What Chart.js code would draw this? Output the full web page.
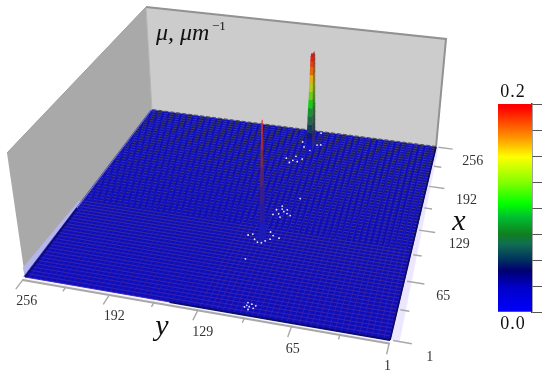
<!DOCTYPE html>
<html>
<head>
<meta charset="utf-8">
<script src="https://cdn.jsdelivr.net/npm/chart.js@4"></script>
<style>
  body { margin: 0; background: #fff; }
  #wrap { position: relative; width: 550px; height: 380px; overflow: hidden; }
  #plot { position: absolute; left: 0; top: 0; }
  #bar { position: absolute; left: 498px; top: 100px; }
</style>
</head>
<body>
<div id="wrap">
  <canvas id="plot" width="550" height="380"></canvas>
  <canvas id="bar" width="44" height="216"></canvas>
</div>
<script>
// axis ticks (x and y both run 1..256)
const majorTicks = [1, 65, 129, 192, 256];
const minorTicks = [33, 97, 160, 224];
const muTop = 0.2;

// colour scale
const scaleValues = [0, 0.024, 0.04, 0.05, 0.066, 0.075, 0.0915, 0.104, 0.124, 0.149, 0.1685, 0.197, 0.2];
const scaleColors = [[0,0,255],[0,0,200],[0,0,112],[0,48,96],[16,112,80],[16,128,32],[0,192,48],[0,255,0],[128,255,0],[255,255,0],[255,144,0],[255,0,0],[255,0,0]];
const scaleTicks = [0, 0.025, 0.05, 0.075, 0.1, 0.125, 0.15, 0.175, 0.2];

// the two peaks: position, then mu and half width going up the column
const peakAx = 89, peakAy = 109;
const peakAmu = [0, 0.03, 0.06, 0.09, 0.12, 0.15, 0.175, 0.197];
const peakAwidth = [1.8, 1.2, 0.95, 0.85, 0.7, 0.5, 0.35, 0.3];
const peakAtone = ['#1c1cb8', '#2a1ca0', '#3c1e88', '#5a2468', '#7c2c44', '#a82c2c', '#e83030'];
const peakBx = 230, peakBy = 104;
const peakBmu = [0, 0.01, 0.02, 0.03, 0.045, 0.06, 0.075, 0.09, 0.105, 0.12, 0.135, 0.15, 0.16, 0.168, 0.173];
const peakBwidth = [2.6, 2.4, 2.3, 2.2, 2.1, 2, 1.9, 1.7, 1.6, 1.5, 1.4, 1.3, 1.2, 1.1, 0.8];

// small isolated values around the peaks
const speckX = [90,92,86,83,83,86,89,94,98, 121,128,123,130,127,125,123,119,134,130, 10,7,9,11,13,9,12,14, 61, 205,199,210,202,207,203,227,235,233,234,254,223, 148,92];
const speckY = [120,117,114,111,108,106,103,102,105, 109,108,105,104,102,99,96,103,105,100, 97,97,100,99,96,94,93,99, 114, 119,115,112,109,106,113,109,112,99,96,100,103, 94,97];

// view of the box: floor and wall top, corners (x,y) = (1,1) (256,1) (256,256) (1,256)
const floorView = [[390,340],[436,147],[152,110],[25,277]];
const topView = [[400,210],[446,39],[146,7],[7,153]];

function makeView(c) {
  const [p0, p1, p2, p3] = c;
  const dx1 = p1[0]-p2[0], dx2 = p3[0]-p2[0], sx = p0[0]-p1[0]+p2[0]-p3[0];
  const dy1 = p1[1]-p2[1], dy2 = p3[1]-p2[1], sy = p0[1]-p1[1]+p2[1]-p3[1];
  const den = dx1*dy2-dx2*dy1;
  const g = (sx*dy2-dx2*sy)/den, h = (dx1*sy-sx*dy1)/den;
  return (s, t) => {
    const w = g*s+h*t+1;
    return [((p1[0]-p0[0]+g*p1[0])*s+(p3[0]-p0[0]+h*p3[0])*t+p0[0])/w,
            ((p1[1]-p0[1]+g*p1[1])*s+(p3[1]-p0[1]+h*p3[1])*t+p0[1])/w];
  };
}
const onFloor = makeView(floorView), onTop = makeView(topView);

function project(x, y, mu) {
  const s = (x-1)/255, t = (y-1)/255;
  const a = onFloor(s, t), b = onTop(s, t), k = (mu || 0)/muTop;
  return { x: a[0]+(b[0]-a[0])*k, y: a[1]+(b[1]-a[1])*k };
}

function colorOf(v) {
  let i = 0;
  while (i < scaleValues.length-2 && v > scaleValues[i+1]) i++;
  const k = Math.min(1, (v-scaleValues[i])/(scaleValues[i+1]-scaleValues[i]));
  return scaleColors[i].map((c, n) => Math.round(c+(scaleColors[i+1][n]-c)*k));
}
const rgb = c => `rgb(${c[0]},${c[1]},${c[2]})`;
const dim = c => [c[0]*0.8+20, c[1]*0.72+20, c[2]*0.8+20].map(Math.round);
const darker = c => [c[0]*0.4+45, c[1]*0.35+40, c[2]*0.5+30].map(Math.round);

const sets = [];
function poly(points, color) {
  sets.push({ data: points, showLine: true, fill: 'shape', backgroundColor: color, borderColor: color, borderWidth: 0.5, pointRadius: 0 });
}
function line(points, color, width, dash) {
  sets.push({ data: points, showLine: true, fill: false, borderColor: color, borderWidth: width, borderDash: dash || [], pointRadius: 0 });
}
function column(x0, y0, mus, widths, leftColor, rightColor) {
  for (let i = 0; i < mus.length-1; i++) {
    const a = widths[i], b = widths[i+1];
    poly([project(x0-2.5*a, y0+a, mus[i]), project(x0-2.5*a, y0-a, mus[i]), project(x0-2.5*b, y0-b, mus[i+1]), project(x0-2.5*b, y0+b, mus[i+1])], leftColor(i));
    poly([project(x0-2.5*a, y0-a, mus[i]), project(x0+2.5*a, y0-a, mus[i]), project(x0+2.5*b, y0-b, mus[i+1]), project(x0-2.5*b, y0-b, mus[i+1])], rightColor(i));
  }
}

// walls
poly([project(1,256), project(256,256), project(256,256,muTop), project(1,256,muTop)], '#a9a9a9');
poly([project(256,256), project(256,1), project(256,1,muTop), project(256,256,muTop)], '#cccccc');
line([project(256,256,muTop), project(256,1,muTop), project(256,1)], '#929292', 2);
line([project(256,256), project(256,256,muTop)], '#b4b4b4', 1);
line([project(1,256,muTop), project(256,256,muTop)], '#a0a0a0', 1);

// lavender rim on the left wall
poly([project(1,256), project(100,256), project(100,259), project(10,262)], '#b6b6ee');

// front and right rims, outside the floor
poly([project(1,1), project(1,256), project(-3,256), project(-3,1)], '#f6f4ff');
poly([project(1,1), project(256,1), project(256,-1), project(1,-5)], '#ece6ff');
line([project(-2.5,256), project(-2.5,1)], '#a8a8a8', 2.2);

// ticks
majorTicks.forEach(t => {
  line([project(-1.5,t), project(-13,t)], '#a8a8a8', 1.4);
  line([project(t,-1), project(t,-13)], '#a8a8a8', 1.4);
});
minorTicks.forEach(t => {
  line([project(-1.5,t), project(-7,t)], '#a8a8a8', 1.4);
  line([project(t,-1), project(t,-7)], '#a8a8a8', 1.4);
});

// floor: mu = 0 everywhere apart from the peaks
poly([project(1,1), project(256,1), project(256,256), project(1,256)], '#0e0eb8');
for (let v = 1; v <= 257; v += 4) {
  const k = (v-1)/256;
  const r = Math.round(62+8*k), g = Math.round(34+36*k), b = Math.round(175-105*k);
  line([project(v,1), project(v,256)], `rgb(${r},${g},${b})`, 0.9, k > 0.4 ? [4,2] : []);
  line([project(1,v), project(256,v)], k > 0.5 ? 'rgba(30,30,210,0.8)' : 'rgba(55,45,205,0.6)', 0.8);
}
line([project(1,1), project(1,150)], '#0a0a70', 2);
line([project(1,1), project(256,1)], '#0a0a60', 1.6);
line([project(1,256), project(90,256)], '#0a0a70', 2);

// specks
sets.push({ data: speckX.map((v, i) => project(v, speckY[i])), showLine: false, pointRadius: 0.9, pointBorderWidth: 0, pointBackgroundColor: '#ecebff' });

// peaks, back one first
column(peakBx, peakBy, peakBmu, peakBwidth,
  i => rgb(dim(colorOf(peakBmu[i+1]/0.173*muTop))),
  i => rgb(darker(colorOf(peakBmu[i+1]/0.173*muTop))));
column(peakAx, peakAy, peakAmu, peakAwidth,
  i => peakAtone[i],
  i => peakAtone[i]);

const labelPlugin = {
  id: 'labels',
  afterDraw(chart) {
    const c = chart.ctx, sx = chart.scales.x, sy = chart.scales.y;
    const put = (txt, p, dx, dy) => c.fillText(txt, sx.getPixelForValue(p.x)+dx, sy.getPixelForValue(p.y)+dy);
    c.save();
    c.textAlign = 'center';
    c.textBaseline = 'middle';
    c.fillStyle = '#333';
    c.font = '14px "Liberation Serif"';
    const yNudge = [1, 5, 10, 11, 11], xNudge = [18, 19, 24, 22, 20];
    majorTicks.forEach((t, i) => {
      put(String(t), project(-13, t), yNudge[i], 12);
      put(String(t), project(t, -13), xNudge[i], i == 0 ? 14 : 12);
    });
    c.fillStyle = '#111';
    c.font = 'italic 30px "Liberation Serif"';
    c.fillText('y', 162, 327);
    c.fillText('x', 459, 222);
    c.textAlign = 'left';
    c.textBaseline = 'alphabetic';
    c.font = 'italic 24px "Liberation Serif"';
    c.fillText('μ, μm', 156, 40);
    c.font = '13px "Liberation Serif"';
    c.fillText('−1', 212, 30);
    c.textAlign = 'center';
    c.font = '18px "Liberation Serif"';
    c.letterSpacing = '1px';
    c.fillText('0.2', 513, 97);
    c.fillText('0.0', 513, 329);
    c.restore();
  }
};

new Chart(document.getElementById('plot'), {
  type: 'scatter',
  data: { datasets: sets.reverse() },
  options: {
    responsive: false,
    animation: false,
    events: [],
    layout: { padding: 0, autoPadding: false },
    plugins: { legend: { display: false }, tooltip: { enabled: false } },
    scales: {
      x: { type: 'linear', display: false, min: 0, max: 550 },
      y: { type: 'linear', display: false, min: 0, max: 380, reverse: true }
    }
  },
  plugins: [labelPlugin]
});

new Chart(document.getElementById('bar'), {
  type: 'bar',
  data: {
    labels: ['mu'],
    datasets: [{
      data: [[0, 0.2]],
      barPercentage: 1,
      categoryPercentage: 1,
      backgroundColor(ctx) {
        const area = ctx.chart.chartArea;
        if (!area) return '#00f';
        const g = ctx.chart.ctx.createLinearGradient(0, area.bottom, 0, area.top);
        scaleValues.forEach((v, i) => g.addColorStop(v/0.2, rgb(scaleColors[i])));
        return g;
      }
    }]
  },
  options: {
    responsive: false,
    animation: false,
    events: [],
    layout: { padding: { top: 4, bottom: 4 } },
    plugins: { legend: { display: false }, tooltip: { enabled: false } },
    scales: {
      x: { display: false },
      y: {
        position: 'right',
        min: 0,
        max: 0.2,
        afterBuildTicks(axis) { axis.ticks = scaleTicks.map(v => ({ value: v })); },
        ticks: { display: false },
        border: { color: '#444', width: 1.5 },
        grid: { drawOnChartArea: false, tickLength: 10, color: '#555', lineWidth: 1 }
      }
    }
  }
});
</script>
</body>
</html>
